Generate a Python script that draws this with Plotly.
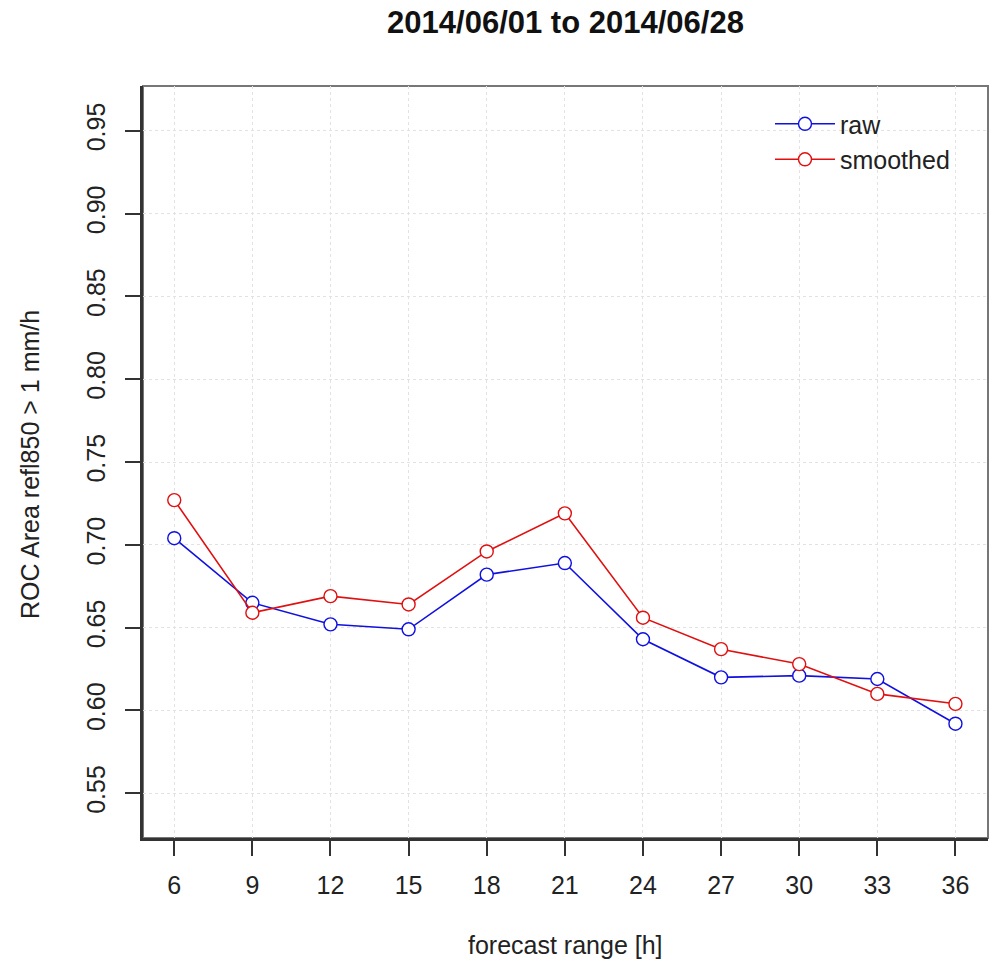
import plotly.graph_objects as go

# ---- data ----
forecast_range = [6, 9, 12, 15, 18, 21, 24, 27, 30, 33, 36]
raw_values = [0.704, 0.665, 0.652, 0.649, 0.682, 0.689, 0.643, 0.620, 0.621, 0.619, 0.592]
smoothed_values = [0.727, 0.659, 0.669, 0.664, 0.696, 0.719, 0.656, 0.637, 0.628, 0.610, 0.604]
y_tick_values = [0.55, 0.60, 0.65, 0.70, 0.75, 0.80, 0.85, 0.90, 0.95]
x_tick_values = forecast_range

FONT = "Liberation Sans, Arial, sans-serif"
W, H = 1000, 965
ML, MR, MT, MB = 143, 12, 86, 127

fig = go.Figure()
fig.add_trace(go.Scatter(
    x=forecast_range, y=raw_values, name="raw", mode="lines+markers",
    line=dict(color="#1010e0", width=1.6),
    marker=dict(symbol="circle", size=13, color="white",
                line=dict(color="#1010e0", width=1.4)),
))
fig.add_trace(go.Scatter(
    x=forecast_range, y=smoothed_values, name="smoothed", mode="lines+markers",
    line=dict(color="#e01010", width=1.6),
    marker=dict(symbol="circle", size=13, color="white",
                line=dict(color="#e01010", width=1.4)),
))

axis_common = dict(
    showline=True, linecolor="#333333", linewidth=2.5,
    ticks="outside", ticklen=15, tickwidth=1.5, tickcolor="#333333",
    showgrid=True, gridcolor="#e2e2e2", gridwidth=1, griddash="dot",
    zeroline=False,
    tickfont=dict(family=FONT, size=25, color="#222222"),
)

fig.update_layout(
    width=W, height=H,
    margin=dict(l=ML, r=MR, t=MT, b=MB),
    paper_bgcolor="white", plot_bgcolor="white",
    title=dict(text="<b>2014/06/01 to 2014/06/28</b>", x=0.5, xref="paper",
               y=1 - 22 / H, yref="container", xanchor="center", yanchor="middle",
               font=dict(family=FONT, size=31, color="#111111")),
    xaxis=dict(range=[4.8, 37.25], tickvals=x_tick_values,
               ticklabelstandoff=8, **axis_common),
    yaxis=dict(range=[0.523, 0.977], tickvals=y_tick_values, tickformat=".2f",
               tickangle=-90, ticklabelstandoff=10, **axis_common),
    legend=dict(x=0.742, y=0.98, xanchor="left", yanchor="top",
                bgcolor="rgba(0,0,0,0)", itemwidth=60,
                font=dict(family=FONT, size=25, color="#222222"),
                tracegroupgap=0),
    showlegend=True,
    shapes=[dict(type="rect", xref="paper", yref="paper", x0=0, x1=1, y0=0, y1=1,
                 line=dict(color="#777777", width=2), layer="below")],
    annotations=[
        dict(text="forecast range [h]", xref="paper", yref="paper", x=0.5, y=0,
             xanchor="center", yanchor="middle", yshift=-107, showarrow=False,
             font=dict(family=FONT, size=25, color="#222222")),
        dict(text="ROC Area refl850 > 1 mm/h", xref="paper", yref="paper", x=0, y=0.5,
             xanchor="center", yanchor="middle", xshift=-113, yshift=-3, textangle=-90,
             showarrow=False, font=dict(family=FONT, size=25, color="#222222")),
    ],
)

fig.write_html("out.html", config={"displayModeBar": False},
               post_script="document.body.style.margin='0';document.body.style.overflow='hidden';")
